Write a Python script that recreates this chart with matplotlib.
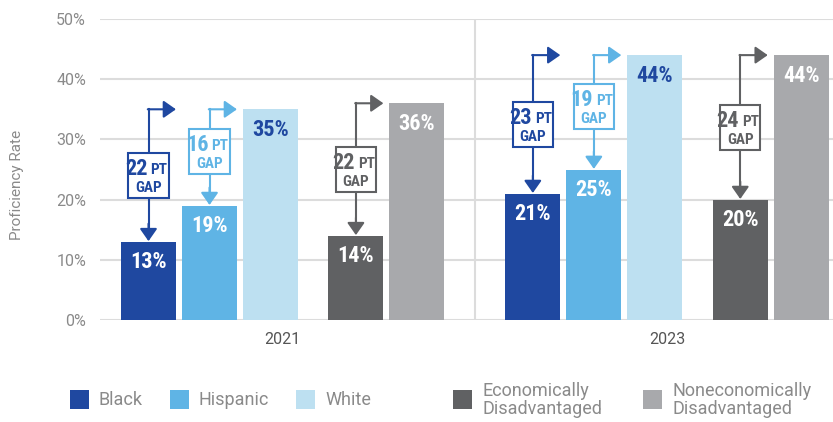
import numpy as np
import matplotlib.pyplot as plt
from matplotlib.patches import Rectangle
from matplotlib import font_manager as fm

# data
groups = ["Black", "Hispanic", "White", "Economically\nDisadvantaged", "Noneconomically\nDisadvantaged"]
colors = ["#1f48a0", "#5fb4e5", "#bde0f1", "#606163", "#a8a9ac"]
years = ["2021", "2023"]
values_2021 = [13, 19, 35, 14, 36]
values_2023 = [21, 25, 44, 20, 44]
gaps_2021 = [22, 16, 22]
gaps_2023 = [23, 19, 24]

# bar positions within a year group (in bar-spacing units)
offsets = np.array([0, 1, 2, 3.4, 4.4])
group_start = [0, 6.3]
width = 0.9


# pick a condensed bold face if one is installed
def pick_narrow():
    tries = [("Noto Sans", "extra-condensed"), ("Noto Sans", "condensed"),
             ("Roboto Condensed", "normal"), ("Open Sans", "condensed"),
             ("DejaVu Sans", "condensed")]
    for fam, st in tries:
        fp = fm.FontProperties(family=fam, stretch=st, weight="bold")
        try:
            path = fm.findfont(fp, fallback_to_default=False)
        except Exception:
            continue
        if "ondensed" in path or "arrow" in path:
            return dict(family=[fam, "DejaVu Sans"], fontstretch=st), 1.0
    return dict(family=["DejaVu Sans"]), 0.8


narrow, nscale = pick_narrow()
plain = ["Roboto", "DejaVu Sans"]
grey_txt = "#8a8a8a"

fig = plt.figure(figsize=(8.33, 4.22), dpi=100)
ax = fig.add_axes([100 / 833, 102 / 422, 733 / 833, 301 / 422])

for gi, vals in enumerate([values_2021, values_2023]):
    xs = group_start[gi] + offsets
    ax.bar(xs, vals, width=width, color=colors, zorder=2)
    for i, (x, v) in enumerate(zip(xs, vals)):
        tc = colors[0] if i == 2 else "white"
        ax.text(x, v - 1.6, f"{v}%", ha="center", va="top", color=tc,
                fontsize=16 * nscale, fontweight="bold", zorder=5, **narrow)

    # gap annotations: Black vs White, Hispanic vs White, Econ vs Nonecon
    gaps = [gaps_2021, gaps_2023][gi]
    pairs = [(0, 2), (1, 2), (3, 4)]
    for (lo, hi), g in zip(pairs, gaps):
        c = colors[lo]
        x = xs[lo]
        top = vals[hi]
        low = vals[lo]
        ax.plot([x, x], [top, low + 2], color=c, lw=1.5, zorder=3)
        ax.annotate("", xy=(x, low + 0.1), xytext=(x, low + 3),
                    arrowprops=dict(arrowstyle="-|>,head_length=0.5,head_width=0.35",
                                    color=c, lw=1.5, shrinkA=0, shrinkB=0,
                                    mutation_scale=15), zorder=3)
        ax.annotate("", xy=(x + 0.45, top), xytext=(x - 0.012, top),
                    arrowprops=dict(arrowstyle="-|>,head_length=0.5,head_width=0.35",
                                    color=c, lw=1.5, shrinkA=0, shrinkB=0,
                                    mutation_scale=15), zorder=3)
        mid = (top + low) / 2 + (1 if lo == 1 else 0)
        ax.add_patch(Rectangle((x - 0.33, mid - 3.7), 0.66, 7.4, facecolor="white",
                               edgecolor=c, lw=1.5, zorder=4))
        ax.text(x - 0.02, mid + 1.1, f"{g}", ha="right", va="center", color=c,
                fontsize=16 * nscale, fontweight="bold", zorder=5, **narrow)
        ax.text(x + 0.03, mid + 0.9, "PT", ha="left", va="center", color=c,
                fontsize=11 * nscale, fontweight="bold", zorder=5, **narrow)
        ax.text(x, mid - 2.1, "GAP", ha="center", va="center", color=c,
                fontsize=11 * nscale, fontweight="bold", zorder=5, **narrow)

ax.set_ylim(0, 50)
ax.set_xlim(-0.795, 11.22)
ax.set_yticks(np.arange(0, 51, 10))
ax.set_yticklabels([f"{t}%" for t in range(0, 51, 10)], fontsize=11.5,
                   color=grey_txt, family=plain)
ax.tick_params(axis="y", length=0, pad=10)
ax.set_xticks([2.2, 8.5])
ax.set_xticklabels(years, fontsize=11.5, color="#555555", family=plain)
ax.tick_params(axis="x", length=0, pad=9)
ax.grid(axis="y", color="#dcdcdc", lw=1.5, zorder=0)
ax.axvline(5.35, color="#dcdcdc", lw=1.5, zorder=1)
for s in ax.spines.values():
    s.set_visible(False)
ax.set_ylabel("Proficiency Rate", fontsize=11, color=grey_txt, family=plain)
ax.yaxis.set_label_coords(-76 / 733, 0.45)

# legend
leg_x = [70, 170, 296, 453, 643]
for lx, lab, c in zip(leg_x, groups, colors):
    fig.patches.append(Rectangle((lx / 833, 13 / 422), 19 / 833, 19 / 422,
                                 facecolor=c, transform=fig.transFigure, figure=fig))
    fig.text((lx + 29) / 833, 22 / 422, lab, ha="left", va="center", fontsize=13,
             color=grey_txt, family=plain, linespacing=0.95)

fig.savefig("out.png", dpi=100)
